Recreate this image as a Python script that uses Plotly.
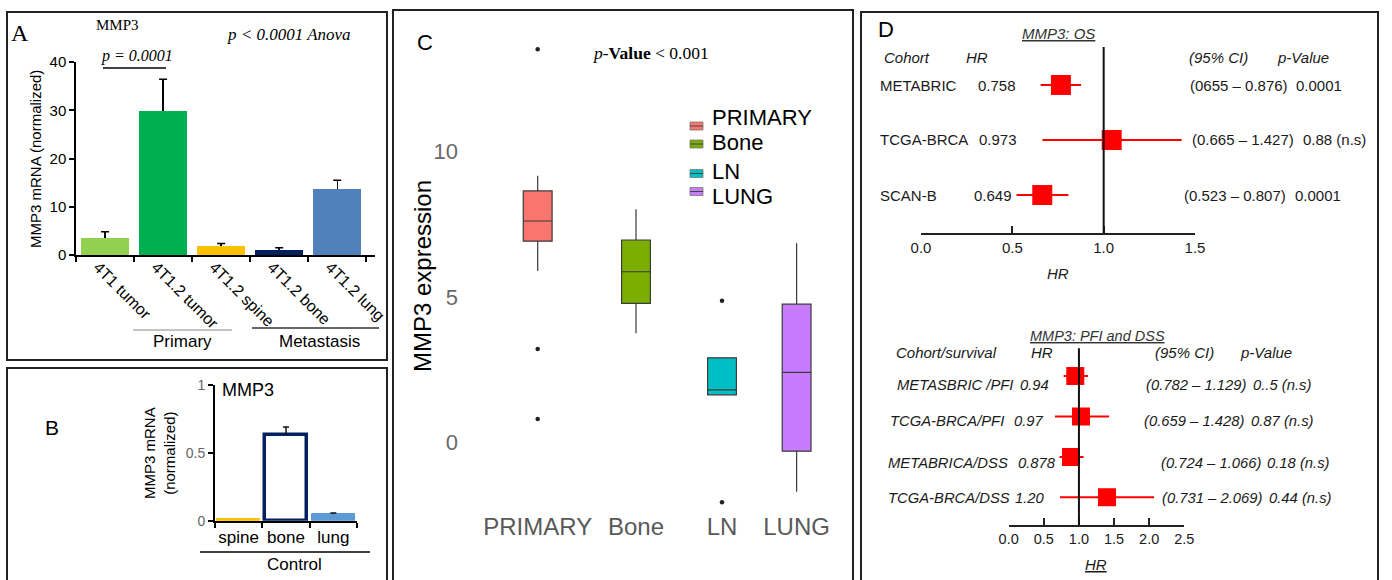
import plotly.graph_objects as go

# ---------------- DATA ----------------
# Panel A: MMP3 mRNA (normalized)
a_categories = ["4T1 tumor", "4T1.2 tumor", "4T1.2 spine", "4T1.2 bone", "4T1.2 lung"]
a_values = [3.6, 29.9, 1.9, 1.0, 13.6]
a_sem = [1.2, 6.5, 0.5, 0.5, 1.9]
a_ticks = [0, 10, 20, 30, 40]

# Panel B: control tissues
b_categories = ["spine", "bone", "lung"]
b_values = [0.012, 0.634, 0.05]
b_sem = [0.0, 0.056, 0.006]
b_ticks = [0, 0.5, 1]
b_ticktext = ["0", "0.5", "1"]

# Panel C: MMP3 expression box plots
c_groups = ["PRIMARY", "Bone", "LN", "LUNG"]
c_q1 = [6.91, 4.78, 1.64, -0.29]
c_median = [7.60, 5.86, 1.81, 2.41]
c_q3 = [8.63, 6.95, 2.91, 4.75]
c_lower = [5.89, 3.75, 1.64, -1.68]
c_upper = [9.15, 8.00, 2.91, 6.84]
c_outlier_group = ["PRIMARY", "PRIMARY", "PRIMARY", "LN", "LN"]
c_outlier_values = [13.49, 3.21, 0.81, 4.87, -2.04]
c_ticks = [0, 5, 10]

# Panel D (top): MMP3 OS
d1_cohorts = ["METABRIC", "TCGA-BRCA", "SCAN-B"]
d1_hr_text = ["0.758", "0.973", "0.649"]
d1_hr = [0.766, 1.044, 0.664]
d1_ci_low = [0.655, 0.665, 0.523]
d1_ci_high = [0.876, 1.427, 0.807]
d1_ci_text = ["(0655 \u2013 0.876)", "(0.665 \u2013 1.427)", "(0.523 \u2013 0.807)"]
d1_p_text = ["0.0001", "0.88 (n.s)", "0.0001"]
d1_ticks = [0, 0.5, 1.0, 1.5]

# Panel D (bottom): MMP3 PFI and DSS
d2_cohorts = ["METASBRIC /PFI", "TCGA-BRCA/PFI", "METABRICA/DSS", "TCGA-BRCA/DSS"]
d2_hr_text = ["0.94", "0.97", "0.878", "1.20"]
d2_hr = [0.948, 1.029, 0.887, 1.399]
d2_ci_low = [0.782, 0.659, 0.724, 0.731]
d2_ci_high = [1.129, 1.428, 1.066, 2.069]
d2_ci_text = ["(0.782 \u2013 1.129)", "(0.659 \u2013 1.428)", "(0.724 \u2013 1.066)", "(0.731 \u2013 2.069)"]
d2_p_text = ["0..5 (n.s)", "0.87 (n.s)", "0.18 (n.s)", "0.44 (n.s)"]
d2_ticks = [0, 0.5, 1.0, 1.5, 2.0, 2.5]

# ---------------- STYLE / LAYOUT ----------------
W, H = 1392, 580
SANS = "Liberation Sans, Arial, sans-serif"
SERIF = "Liberation Serif, Times New Roman, serif"

a_colors = ["#92D050", "#00B050", "#FFC000", "#002060", "#4F81BD"]
b_fill = ["#FFC000", "#FFFFFF", "#5B9BD5"]
b_line = ["#FFC000", "#002060", "#5B9BD5"]
b_linew = [1, 3.5, 1]
c_colors = ["#F8766D", "#7CAE00", "#00BFC4", "#C77CFF"]
c_xpos = [0.0, 1.0, 1.875, 2.634]
c_legend_text_y = [117, 142.5, 172, 197]
c_legend_icon_y = [126, 144, 173.5, 191.5]
d1_rowpos = [0, 1, 2]
d1_text_y = [85, 139, 195]
d1_hr_x = [976, 977, 972]
d1_ci_x = [1188, 1190, 1182]
d1_p_x = [1294, 1301, 1293]
d2_rowpos = [0, 1, 2, 3]
d2_text_y = [385, 421, 463, 498]
d2_lab_x = [895, 888, 886, 886]
d2_hr_x = [1018, 1012, 1016, 1013]
d2_ci_x = [1144, 1142, 1159, 1160]
d2_p_x = [1251, 1249, 1265, 1267]
RED = "#FF0000"
TXT = "#1a1a1a"


def fx(px):
    return px / W


def fy(py):
    return 1 - py / H


fig = go.Figure()

# ---- Panel A bars ----
fig.add_trace(go.Bar(
    x=a_categories, y=a_values, width=0.83,
    marker=dict(color=a_colors, line=dict(width=0)),
    error_y=dict(type="data", symmetric=False, array=a_sem,
                 arrayminus=[0] * len(a_sem), color="black", thickness=1.5, width=0),
    xaxis="x", yaxis="y", showlegend=False))
fig.add_trace(go.Scatter(
    x=a_categories, y=[v + e for v, e in zip(a_values, a_sem)], mode="markers",
    marker=dict(size=0.1, color="rgba(0,0,0,0)"),
    error_y=dict(type="data", array=[0] * len(a_sem), color="black", thickness=1.5, width=4),
    xaxis="x", yaxis="y", showlegend=False, hoverinfo="skip"))

# ---- Panel B bars ----
fig.add_trace(go.Bar(
    x=b_categories, y=b_values, width=0.9,
    marker=dict(color=b_fill, line=dict(color=b_line, width=b_linew)),
    error_y=dict(type="data", symmetric=False, array=b_sem,
                 arrayminus=[0] * len(b_sem), color="#111111", thickness=1.5, width=0),
    xaxis="x2", yaxis="y2", showlegend=False))
fig.add_trace(go.Scatter(
    x=b_categories[1:], y=[v + e for v, e in zip(b_values[1:], b_sem[1:])], mode="markers",
    marker=dict(size=0.1, color="rgba(0,0,0,0)"),
    error_y=dict(type="data", array=[0, 0], color="#111111", thickness=1.5, width=3),
    xaxis="x2", yaxis="y2", showlegend=False, hoverinfo="skip"))

# ---- Panel C boxes ----
for i, g in enumerate(c_groups):
    fig.add_trace(go.Box(
        x=[c_xpos[i]], q1=[c_q1[i]], median=[c_median[i]], q3=[c_q3[i]],
        lowerfence=[c_lower[i]], upperfence=[c_upper[i]], name=g,
        fillcolor=c_colors[i], line=dict(color="#3a3a3a", width=1.2),
        width=0.293, whiskerwidth=0, boxpoints=False,
        xaxis="x3", yaxis="y3", showlegend=False))
fig.add_trace(go.Scatter(
    x=[c_xpos[c_groups.index(g)] for g in c_outlier_group], y=c_outlier_values,
    mode="markers", marker=dict(size=4.5, color="#222222"),
    xaxis="x3", yaxis="y3", showlegend=False))

# ---- Panel D forest plots ----
fig.add_trace(go.Scatter(
    x=d1_hr, y=d1_rowpos, mode="markers",
    marker=dict(symbol="square", size=20, color=RED),
    error_x=dict(type="data", symmetric=False,
                 array=[h - m for h, m in zip(d1_ci_high, d1_hr)],
                 arrayminus=[m - l for m, l in zip(d1_hr, d1_ci_low)],
                 color=RED, thickness=2, width=0),
    xaxis="x4", yaxis="y4", showlegend=False))
fig.add_trace(go.Scatter(
    x=d2_hr, y=d2_rowpos, mode="markers",
    marker=dict(symbol="square", size=18, color=RED),
    error_x=dict(type="data", symmetric=False,
                 array=[h - m for h, m in zip(d2_ci_high, d2_hr)],
                 arrayminus=[m - l for m, l in zip(d2_hr, d2_ci_low)],
                 color=RED, thickness=2, width=0),
    xaxis="x5", yaxis="y5", showlegend=False))

noaxis = dict(showgrid=False, zeroline=False, automargin=False)

fig.update_layout(
    template="none",
    width=W, height=H, margin=dict(l=0, r=0, t=0, b=0, pad=0), autosize=False,
    paper_bgcolor="white", plot_bgcolor="rgba(0,0,0,0)",
    font=dict(family=SANS, color="black"), showlegend=False, bargap=0,
    # Panel A
    xaxis=dict(domain=[fx(76), fx(375)], anchor="y", type="category", range=[-0.5, 4.65],
               tickson="boundaries", ticks="outside", ticklen=5, tickwidth=1.5, tickcolor="black",
               showline=True, linecolor="black", linewidth=1.5, tickangle=45,
               ticklabelshift=-7, ticklabelstandoff=-5,
               tickfont=dict(size=16, color="black"), **noaxis),
    yaxis=dict(domain=[fy(255), fy(62)], anchor="x", range=[0, 40], tickvals=a_ticks,
               ticks="outside", ticklen=5, tickwidth=1.5, tickcolor="black",
               showline=True, linecolor="black", linewidth=1.5,
               tickfont=dict(size=15, color="black"), **noaxis),
    # Panel B
    xaxis2=dict(domain=[fx(215), fx(357)], anchor="y2", type="category", range=[-0.5, 2.5],
                tickson="boundaries", ticks="outside", ticklen=5, tickwidth=1.5, tickcolor="black",
                showline=True, linecolor="black", linewidth=2, tickangle=0,
                tickfont=dict(size=17, color="black"), **noaxis),
    yaxis2=dict(domain=[fy(520.7), fy(385)], anchor="x2", range=[0, 1], tickvals=b_ticks,
                ticktext=b_ticktext, ticks="outside", ticklen=5, tickwidth=1.5, tickcolor="black",
                showline=True, linecolor="black", linewidth=2,
                tickfont=dict(size=14, color="#666666"), **noaxis),
    # Panel C
    xaxis3=dict(domain=[fx(462), fx(850)], anchor="y3", range=[-0.77, 3.177],
                tickvals=c_xpos, ticktext=c_groups, ticks="", showline=False, tickangle=0,
                tickfont=dict(size=24, color="#595959"), **noaxis),
    yaxis3=dict(domain=[fy(510), fy(25)], anchor="x3", range=[-2.307, 14.32],
                tickvals=c_ticks, ticks="", showline=False, ticklabelstandoff=3,
                tickfont=dict(size=22, color="#6a6a6a"), **noaxis),
    # Panel D top
    xaxis4=dict(domain=[fx(921), fx(1195)], anchor="y4", range=[0, 1.5],
                tickvals=d1_ticks, ticktext=["%.1f" % t for t in d1_ticks],
                ticks="inside", ticklen=7, tickwidth=2, tickcolor="#222222",
                showline=True, linecolor="#222222", linewidth=2, tickangle=0,
                tickfont=dict(size=15, color=TXT), **noaxis),
    yaxis4=dict(domain=[fy(233), fy(47)], anchor="x4", range=[2.69, -0.69],
                visible=False, **noaxis),
    # Panel D bottom
    xaxis5=dict(domain=[fx(1008.7), fx(1184.3)], anchor="y5", range=[0, 2.5],
                tickvals=d2_ticks, ticktext=["%.1f" % t for t in d2_ticks],
                ticks="inside", ticklen=7, tickwidth=2, tickcolor="#222222",
                showline=True, linecolor="#222222", linewidth=2, tickangle=0,
                tickfont=dict(size=14.5, color=TXT), **noaxis),
    yaxis5=dict(domain=[fy(525), fy(348.3)], anchor="x5", range=[3.684, -0.685],
                visible=False, **noaxis),
)

shapes = []
annotations = []


def box(x0, y0, x1, y1):
    shapes.append(dict(type="rect", xref="paper", yref="paper",
                       x0=fx(x0), y0=fy(y0), x1=fx(x1), y1=fy(y1),
                       line=dict(color="#222222", width=2), fillcolor="rgba(0,0,0,0)", layer="above"))


def hline(x0, x1, y, color="black", width=1.3):
    shapes.append(dict(type="line", xref="paper", yref="paper",
                       x0=fx(x0), x1=fx(x1), y0=fy(y), y1=fy(y),
                       line=dict(color=color, width=width)))


def ann(text, x, y, size, family=SANS, color="black", xanchor="center", angle=0):
    annotations.append(dict(text=text, x=fx(x), y=fy(y), xref="paper", yref="paper",
                            showarrow=False, xanchor=xanchor, yanchor="middle",
                            textangle=angle, font=dict(size=size, family=family, color=color)))


# Panel borders
box(7, 12, 387, 360)
box(7, 368, 387, 592)
box(393, 10, 853, 592)
box(861, 12, 1378, 592)

# Panel A text
ann("A", 20, 33, 24, SERIF)
ann("MMP3", 118, 25, 15, SERIF)
ann("<i>p &lt; 0.0001 Anova</i>", 289, 34, 17, SERIF)
ann("<i>p = 0.0001</i>", 137, 56, 16, SERIF)
hline(103, 166, 68, "black", 1.5)
ann("MMP3 mRNA (normalized)", 36, 159, 15, angle=-90)
hline(133, 232, 330, "#888888", 1)
ann("Primary", 182, 341, 17)
hline(252, 379, 328, "#333333", 1.3)
ann("Metastasis", 319, 341, 17)

# Panel B text
ann("B", 52, 427, 21)
ann("MMP3", 248, 390, 18)
ann("MMP3 mRNA<br>(normalized)", 159, 453, 15, angle=-90)
hline(200, 370, 552, "black", 1.3)
ann("Control", 294, 564, 17)

# Panel C text
ann("C", 425, 42, 22)
ann("<i>p</i>-<b>Value</b> &lt; 0.001", 650, 53, 17.5, SERIF)
ann("MMP3 expression", 422, 276, 24, angle=-90)
for i, g in enumerate(c_groups):
    yi = c_legend_icon_y[i]
    shapes.append(dict(type="rect", xref="paper", yref="paper",
                       x0=fx(690), x1=fx(703), y0=fy(yi - 4), y1=fy(yi + 4),
                       fillcolor=c_colors[i], line=dict(color="#777777", width=0.8)))
    hline(690, 703, yi, "#444444", 1)
    ann(g, 710, c_legend_text_y[i], 22, xanchor="left")

# Panel D top text
ann("D", 886, 30, 22)
ann("<i><u>MMP3: OS</u></i>", 1058, 33, 15, color="#333333")
ann("<i>Cohort</i>", 882, 57, 15, color=TXT, xanchor="left")
ann("<i>HR</i>", 964, 57, 15, color=TXT, xanchor="left")
ann("<i>(95% CI)</i>", 1187, 57, 15, color=TXT, xanchor="left")
ann("<i>p-Value</i>", 1275, 57, 15, color=TXT, xanchor="left")
for i in range(len(d1_cohorts)):
    y = d1_text_y[i]
    ann(d1_cohorts[i], 878, y, 15, color=TXT, xanchor="left")
    ann(d1_hr_text[i], d1_hr_x[i], y, 15, color=TXT, xanchor="left")
    ann(d1_ci_text[i], d1_ci_x[i], y, 15, color=TXT, xanchor="left")
    ann(d1_p_text[i], d1_p_x[i], y, 15, color=TXT, xanchor="left")
ann("<i>HR</i>", 1058, 274, 15, color=TXT)
shapes.append(dict(type="line", xref="x4", yref="y4 domain", x0=1, x1=1, y0=0, y1=1,
                   line=dict(color="#111111", width=2)))

# Panel D bottom text
ann("<i><u>MMP3: PFI and DSS</u></i>", 1097, 336, 14.5, color="#333333")
ann("<i>Cohort/survival</i>", 894, 352, 15, color=TXT, xanchor="left")
ann("<i>HR</i>", 1029, 352, 15, color=TXT, xanchor="left")
ann("<i>(95% CI)</i>", 1153, 352, 15, color=TXT, xanchor="left")
ann("<i>p-Value</i>", 1238, 352, 15, color=TXT, xanchor="left")
for i in range(len(d2_cohorts)):
    y = d2_text_y[i]
    ann("<i>%s</i>" % d2_cohorts[i], d2_lab_x[i], y, 14.8, color=TXT, xanchor="left")
    ann("<i>%s</i>" % d2_hr_text[i], d2_hr_x[i], y, 14.8, color=TXT, xanchor="left")
    ann("<i>%s</i>" % d2_ci_text[i], d2_ci_x[i], y, 14.8, color=TXT, xanchor="left")
    ann("<i>%s</i>" % d2_p_text[i], d2_p_x[i], y, 14.8, color=TXT, xanchor="left")
ann("<i><u>HR</u></i>", 1096, 564, 15, color=TXT)
shapes.append(dict(type="line", xref="x5", yref="y5 domain", x0=1, x1=1, y0=0, y1=1,
                   line=dict(color="#111111", width=2)))

fig.update_layout(shapes=shapes, annotations=annotations)
fig.write_html("out.html", config={"displayModeBar": False},
               post_script="document.body.style.margin='0px';")
